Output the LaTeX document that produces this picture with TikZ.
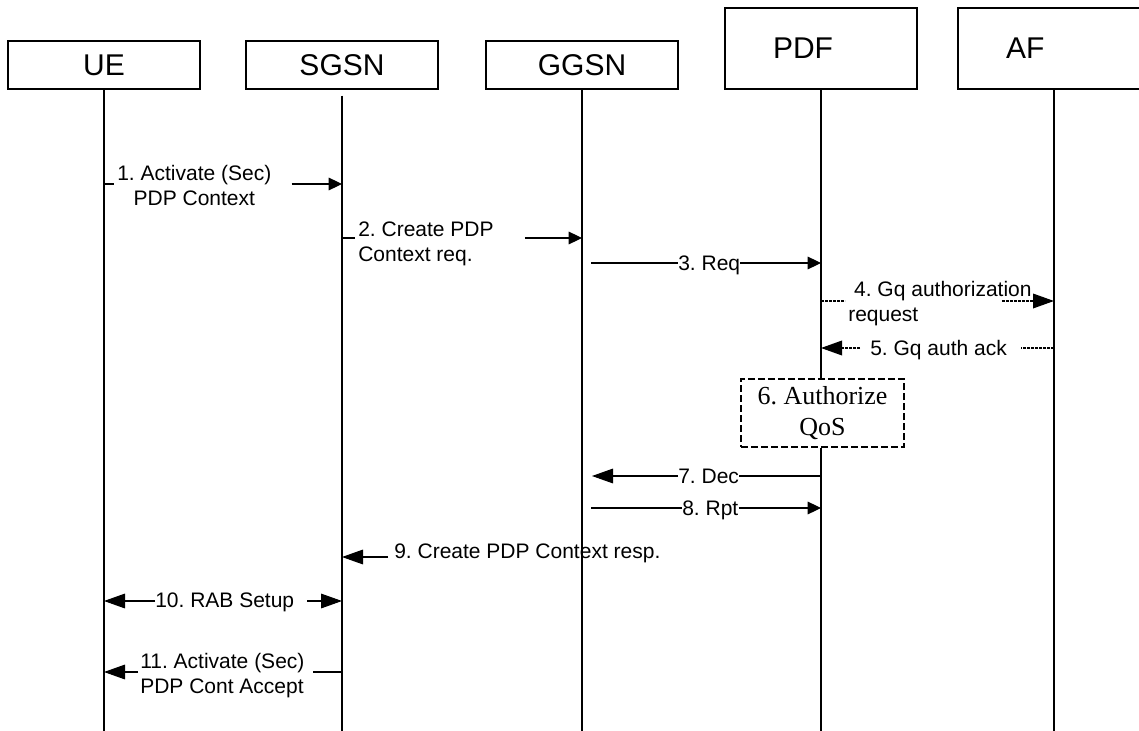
\documentclass[tikz,border=0pt]{standalone}
\usepackage{fontspec}
\setmainfont{Liberation Sans}
\newfontfamily\qosfont{Liberation Serif}
\usetikzlibrary{arrows.meta}
\usetikzlibrary{calc}
\frenchspacing

\begin{document}
\begin{tikzpicture}[x=0.75pt,y=-0.75pt,
  entity/.style={draw=black,line width=1.1pt,minimum width=144pt,minimum height=36pt,inner sep=0pt,font=\fontsize{22.5pt}{27pt}\selectfont},
  server/.style={entity,minimum height=60.75pt,text width=72pt,inner xsep=36pt,align=left},
  life/.style={draw=black,line width=1.1pt},
  msg/.style={draw=black,line width=0.8pt},
  gq/.style={msg,line width=1pt,dash pattern=on 2pt off 1pt},
  tipS/.style={-{Triangle[length=10pt,width=9.5pt]}},
  tipL/.style={-{Triangle[length=15.75pt,width=11pt]}},
  lbl/.style={inner sep=0pt,anchor=base west,font=\fontsize{15.75pt}{18.75pt}\selectfont},
  action/.style={draw=black,line width=1.9pt,dash pattern=on 5pt off 2.5pt,fill=white,minimum width=122.25pt,minimum height=51pt,inner sep=0pt,align=center,font=\qosfont\fontsize{19.5pt}{23.4pt}\selectfont}]
\useasboundingbox (0,0) rectangle (1139,731);

% entities
\node[entity] (ue) at (104,65) {UE};
\node[entity] (sgsn) at (342,65) {SGSN};
\node[entity] (ggsn) at (582,65) {GGSN};
\node[server] (pdf) at (821,48.5) {PDF};
\node[server] (af) at (1054,48.5) {AF};
\coordinate (bottom) at (0,731);

% step 6
\node[action] (auth) at (822.5,413) {6. Authorize\\QoS};

% lifelines
\draw[life] (ue.south) -- (ue |- bottom);
\draw[life] ($(sgsn.south)+(0,6)$) -- (sgsn |- bottom);
\draw[life] (ggsn.south) -- (ggsn |- bottom);
\draw[life] (pdf.south) -- (pdf |- auth.north);
\draw[life] (pdf |- auth.south) -- (pdf |- bottom);
\draw[life] (af.south) -- (af |- bottom);

% 1
\node[lbl,align=center] (m1) at (117,205) {1. Activate (Sec)\\PDP Context};
\draw[msg] (ue |- 0,184) -- ($(m1.west |- 0,184)+(-3,0)$);
\draw[msg,tipS] ($(m1.east |- 0,184)+(20,0)$) -- (sgsn |- 0,184);

% 2
\node[lbl,align=left] (m2) at (358,262) {2. Create PDP\\Context req.};
\draw[msg] (sgsn |- 0,238) -- ($(m2.west |- 0,238)+(-3,0)$);
\draw[msg,tipS] ($(m2.east |- 0,238)+(31,0)$) -- (ggsn |- 0,238);

% 3
\node[lbl] (m3) at (678,270.5) {3. Req};
\draw[msg] ($(ggsn |- 0,263)+(9,0)$) -- (m3.west |- 0,263);
\draw[msg,tipS] (m3.east |- 0,263) -- (pdf |- 0,263);

% 4
\node[lbl,align=left] (m4) at (848,321) {\hspace*{4.4pt}4. Gq authorization\\request};
\draw[gq] (pdf |- 0,301) -- ($(m4.west |- 0,301)+(-3,0)$);
\draw[gq,tipL] ($(m4.east |- 0,301)+(-30,0)$) -- (af |- 0,301);

% 5
\node[lbl] (m5) at (870,355.5) {5. Gq auth ack};
\draw[gq,tipL] ($(m5.west |- 0,348)+(-10,0)$) -- (pdf |- 0,348);
\draw[gq] (af |- 0,348) -- ($(m5.east |- 0,348)+(14,0)$);

% 7
\node[lbl] (m7) at (678,483.5) {7. Dec};
\draw[msg,tipL] (m7.west |- 0,476) -- ($(ggsn |- 0,476)+(10,0)$);
\draw[msg] (pdf |- 0,476) -- (m7.east |- 0,476);

% 8
\node[lbl] (m8) at (682,515.5) {8. Rpt};
\draw[msg] ($(ggsn |- 0,508)+(9,0)$) -- (m8.west |- 0,508);
\draw[msg,tipS] (m8.east |- 0,508) -- (pdf |- 0,508);

% 9
\node[lbl] (m9) at (394,558) {9. Create PDP Context resp.};
\draw[msg,tipL] ($(m9.west |- 0,557)+(-6,0)$) -- (sgsn |- 0,557);

% 10
\node[lbl] (m10) at (155,607) {10. RAB Setup};
\draw[msg,tipL] (m10.west |- 0,601) -- (ue |- 0,601);
\draw[msg,tipL] ($(m10.east |- 0,601)+(13,0)$) -- (sgsn |- 0,601);

% 11
\node[lbl,align=left] (m11) at (140,693) {11. Activate (Sec)\\PDP Cont Accept};
\draw[msg,tipL] ($(m11.west |- 0,672)+(-2,0)$) -- (ue |- 0,672);
\draw[msg] (sgsn |- 0,672) -- ($(m11.east |- 0,672)+(8,0)$);

\end{tikzpicture}
\end{document}
